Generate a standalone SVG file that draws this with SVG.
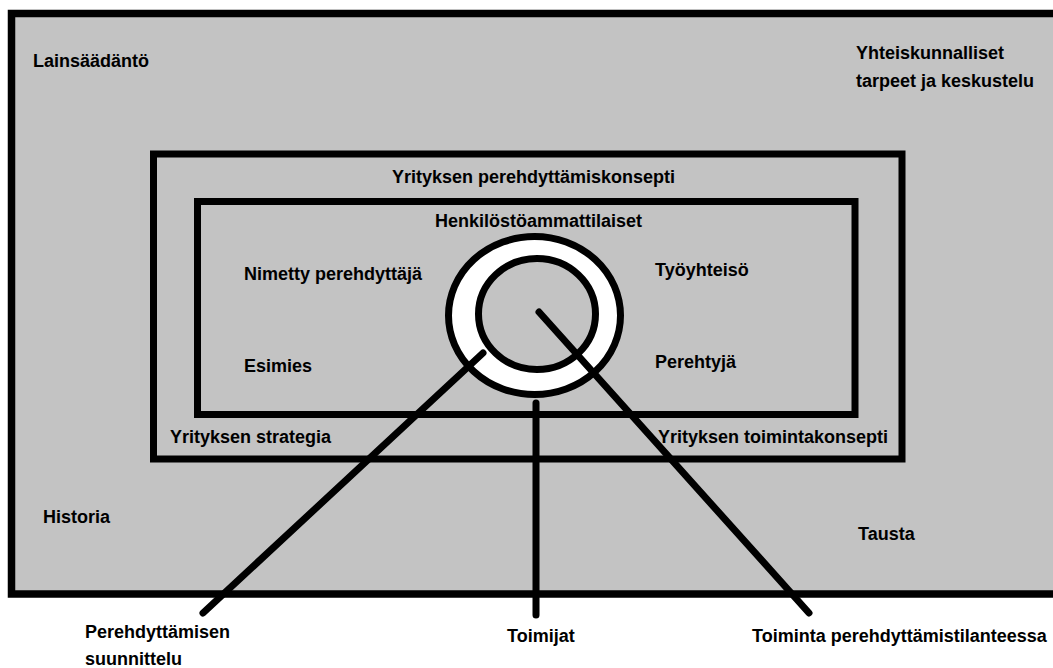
<svg xmlns="http://www.w3.org/2000/svg" width="1053" height="668" viewBox="0 0 1053 668">
<style>
.box{fill:#c3c3c3;stroke:#000;stroke-width:7.5}
.box2{fill:none;stroke:#000;stroke-width:7}
.ln{stroke:#000;stroke-width:7;stroke-linecap:round;fill:none}
text{font-family:"Liberation Sans",Arial,sans-serif;font-weight:bold;font-size:18px;fill:#000}
</style>
<rect width="1053" height="668" fill="#fff"/>
<g id="context">
<rect class="box" x="11.5" y="13.5" width="1046" height="580.5"/>
<text x="33" y="67">Lainsäädäntö</text>
<text x="856" y="59">Yhteiskunnalliset</text>
<text x="856" y="87">tarpeet ja keskustelu</text>
<text x="43" y="523">Historia</text>
<text x="858" y="540">Tausta</text>
</g>
<g id="concept">
<rect class="box2" x="153.5" y="154" width="748.5" height="305"/>
<text x="392" y="183">Yrityksen perehdyttämiskonsepti</text>
<text x="170" y="443">Yrityksen strategia</text>
<text x="658" y="443">Yrityksen toimintakonsepti</text>
</g>
<g id="professionals">
<rect class="box2" x="197.5" y="201.5" width="657.5" height="213"/>
<text x="435" y="227">Henkilöstöammattilaiset</text>
<text x="244" y="280">Nimetty perehdyttäjä</text>
<text x="244" y="372">Esimies</text>
<text x="655" y="276">Työyhteisö</text>
<text x="655" y="368">Perehtyjä</text>
</g>
<g id="ring">
<ellipse cx="534.5" cy="315.5" rx="86" ry="79" fill="#fff" stroke="#000" stroke-width="7"/>
<ellipse cx="537" cy="314" rx="58.5" ry="55.5" fill="#c3c3c3" stroke="#000" stroke-width="7"/>
</g>
<g id="connectors">
<line class="ln" x1="483" y1="353" x2="203" y2="613"/>
<line class="ln" x1="536" y1="403" x2="536" y2="615"/>
<line class="ln" x1="539" y1="312" x2="809" y2="613"/>
</g>
<g id="labels">
<text x="85" y="638">Perehdyttämisen</text>
<text x="85" y="665">suunnittelu</text>
<text x="507" y="642">Toimijat</text>
<text x="752" y="642">Toiminta perehdyttämistilanteessa</text>
</g>
</svg>
